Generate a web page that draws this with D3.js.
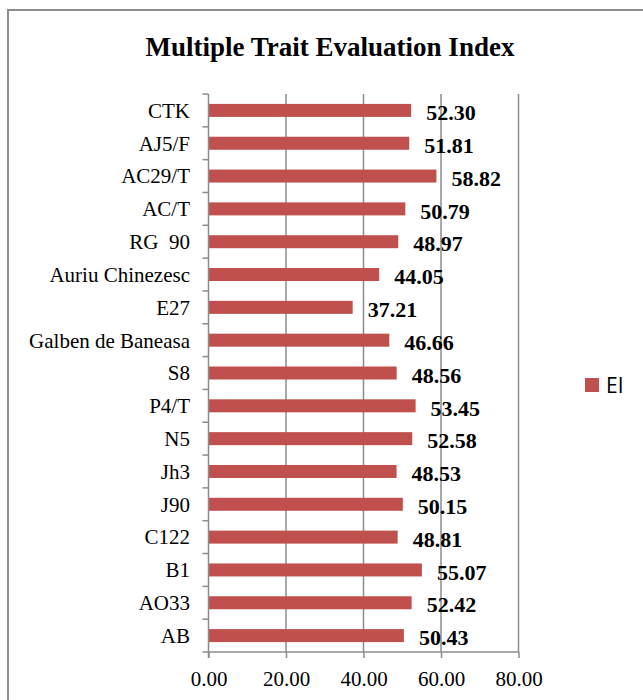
<!DOCTYPE html>
<html>
<head>
<meta charset="utf-8">
<script src="https://cdn.jsdelivr.net/npm/d3@7"></script>
<style>
  html, body { margin: 0; padding: 0; background: #fff; }
  svg { display: block; }
  text { white-space: pre; }
</style>
</head>
<body>
<script>
const categories = ["CTK", "AJ5/F", "AC29/T", "AC/T", "RG  90", "Auriu Chinezesc", "E27",
  "Galben de Baneasa", "S8", "P4/T", "N5", "Jh3", "J90", "C122", "B1", "AO33", "AB"];
const values = [52.30, 51.81, 58.82, 50.79, 48.97, 44.05, 37.21, 46.66, 48.56, 53.45,
  52.58, 48.53, 50.15, 48.81, 55.07, 52.42, 50.43];
const xTicks = [0, 20, 40, 60, 80];
const seriesName = "EI";
const title = "Multiple Trait Evaluation Index";

const W = 643, H = 700;
const svg = d3.select("body").append("svg").attr("width", W).attr("height", H);

// chart border
svg.append("rect").attr("x", 8).attr("y", 10).attr("width", 700).attr("height", 800)
  .attr("fill", "none").attr("stroke", "#8c8c8c").attr("stroke-width", 2);

const m = { left: 208.5, right: 518.5, top: 94, bottom: 652 };
const x = d3.scaleLinear().domain([0, 80]).range([m.left, m.right]);
const yb = d3.scaleBand().domain(categories).range([m.top, m.bottom]);

// gridlines
svg.append("g").selectAll("line").data(xTicks.slice(1)).join("line")
  .attr("x1", d => x(d)).attr("x2", d => x(d))
  .attr("y1", m.top).attr("y2", m.bottom)
  .attr("stroke", "#8c8c8c").attr("stroke-width", 1.5);

// bars
svg.append("g").selectAll("rect").data(values).join("rect")
  .attr("x", x(0))
  .attr("y", (d, i) => yb(categories[i]) + yb.bandwidth() / 2 - 6.5)
  .attr("width", d => x(d) - x(0))
  .attr("height", 13)
  .attr("fill", "#C0504D");

// y axis line and boundary ticks
const gy = svg.append("g").attr("transform", `translate(${m.left},0)`);
gy.append("line").attr("x1", 0).attr("x2", 0).attr("y1", m.top).attr("y2", m.bottom + 6)
  .attr("stroke", "#8c8c8c").attr("stroke-width", 1.5);
const bounds = categories.map(c => yb(c)).concat([m.bottom]);
gy.selectAll("line.bt").data(bounds).join("line").attr("class", "bt")
  .attr("x1", -6).attr("x2", 0).attr("y1", d => d).attr("y2", d => d)
  .attr("stroke", "#8c8c8c").attr("stroke-width", 1.5);

// category labels
svg.append("g").selectAll("text").data(categories).join("text")
  .attr("x", 190)
  .attr("y", d => yb(d) + yb.bandwidth() / 2)
  .attr("dy", "0.35em")
  .attr("text-anchor", "end")
  .attr("font-family", "Liberation Serif")
  .attr("font-size", 21)
  .attr("fill", "#000")
  .text(d => d);

// x axis
const xAxis = d3.axisBottom(x).tickValues(xTicks).tickSize(6).tickFormat(d3.format(".2f"));
const gx = svg.append("g").attr("transform", `translate(0,${m.bottom})`).call(xAxis);
gx.select(".domain").attr("stroke", "#8c8c8c").attr("stroke-width", 1.5)
  .attr("d", `M${m.left},0H${m.right}`);
gx.selectAll(".tick line").attr("stroke", "#8c8c8c").attr("stroke-width", 1.5);
gx.selectAll(".tick text").attr("font-family", "Liberation Serif").attr("font-size", 21)
  .attr("fill", "#000").attr("y", 19).attr("dy", "0.71em");

// value labels
svg.append("g").selectAll("text").data(values).join("text")
  .attr("x", d => x(d) + 15)
  .attr("y", (d, i) => yb(categories[i]) + yb.bandwidth() / 2 + 2)
  .attr("dy", "0.35em")
  .attr("font-family", "Liberation Serif")
  .attr("font-weight", "bold")
  .attr("font-size", 22)
  .attr("fill", "#000")
  .text(d => d.toFixed(2));

// title
svg.append("text").attr("x", 330).attr("y", 56)
  .attr("text-anchor", "middle")
  .attr("font-family", "Liberation Serif").attr("font-weight", "bold").attr("font-size", 27)
  .text(title);

// legend
const lg = svg.append("g").attr("transform", "translate(585,378)");
lg.append("rect").attr("width", 14).attr("height", 14).attr("fill", "#C0504D");
lg.append("text").attr("x", 21).attr("y", 7).attr("dy", "0.36em")
  .attr("font-family", "Open Sans").attr("font-size", 21).attr("fill", "#000")
  .text(seriesName);
</script>
</body>
</html>
